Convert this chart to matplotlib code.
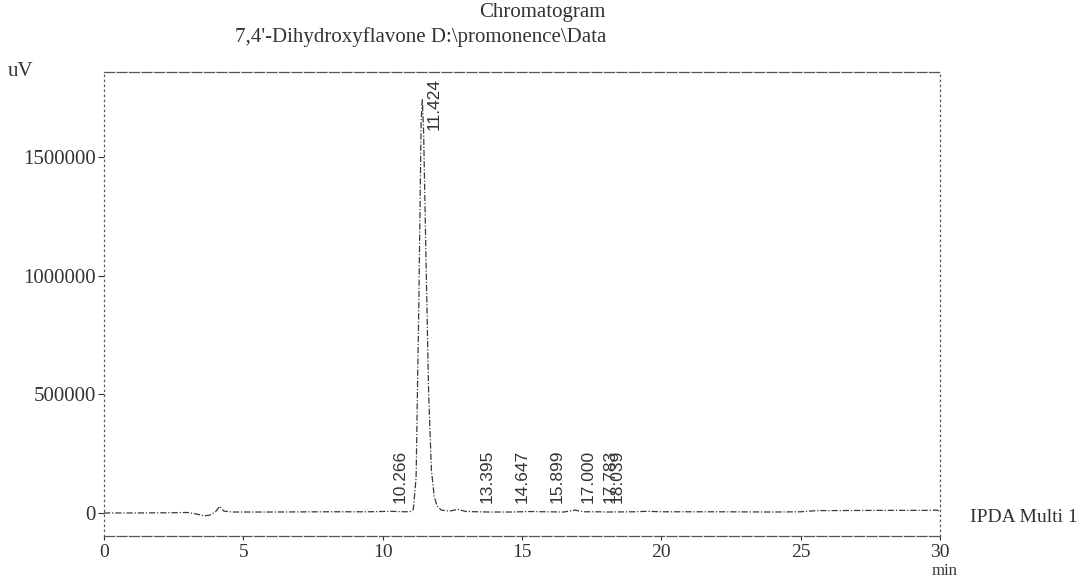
import numpy as np
import matplotlib
matplotlib.use('Agg')
import matplotlib.pyplot as plt

plt.rcParams.update({
    'font.family': ['Liberation Serif', 'DejaVu Serif'],
    'font.size': 14,
})

# trace (min, uV)
time_min = [0.0, 1.2, 2.5, 3.0, 3.3, 3.6, 3.8, 4.0, 4.15, 4.3, 4.6, 6.0, 8.0, 9.5,
            10.266, 10.8, 11.0, 11.1, 11.2, 11.3, 11.38, 11.424, 11.47, 11.55,
            11.65, 11.75, 11.85, 11.95, 12.1, 12.4, 12.7, 13.0, 13.395, 13.8,
            14.647, 15.3, 15.899, 16.5, 16.9, 17.2, 17.783, 18.039, 19.0, 19.5,
            20.0, 22.0, 24.0, 25.0, 25.6, 26.0, 28.0, 29.5, 29.9, 30.0]
signal_uv = [0, 0, 1000, 2000, -4000, -12000, -9000, 5000, 28000, 8000, 4000,
             4000, 5000, 5000, 7000, 5000, 6000, 15000, 150000, 900000, 1650000,
             1740000, 1600000, 1100000, 500000, 180000, 70000, 30000, 12000,
             8000, 15000, 6000, 5000, 4000, 4000, 6000, 5000, 4000, 12000, 5000,
             5000, 4000, 5000, 7000, 5000, 5000, 4000, 5000, 10000, 10000, 11000,
             11000, 12000, 6000]

peak_rt = [10.266, 11.424, 13.395, 14.647, 15.899, 17.000, 17.783, 18.039]
peak_lbl = ['10.266', '11.424', '13.395', '14.647', '15.899', '17.000', '17.783', '18.039']

fig = plt.figure(figsize=(10.84, 5.79), dpi=100)
ax = fig.add_axes([104 / 1084, 1 - 536 / 579, (940 - 104) / 1084, (536 - 72) / 579])

ax.plot(time_min, signal_uv, color='#3a3a3a', lw=0.9, ls=(0, (5, 1.5, 1, 1.5)))

ax.set_xlim(0, 30)
ax.set_ylim(-97000, 1857000)
ax.set_xticks(range(0, 31, 5))
ax.set_yticks([0, 500000, 1000000, 1500000])
ax.set_yticklabels(['0', '500000', '1000000', '1500000'])
ax.tick_params(axis='y', direction='out', length=4, pad=2, colors='#333', labelsize=15)
ax.tick_params(axis='x', direction='out', length=3, pad=3, colors='#333', labelsize=14)

for side in ['top', 'bottom']:
    ax.spines[side].set_linestyle((0, (8, 2)))
for side in ['left', 'right']:
    ax.spines[side].set_linestyle((0, (1, 3)))
for s in ax.spines.values():
    s.set_color('#555')
    s.set_linewidth(0.9)

# retention time labels
lbl_font = dict(rotation=90, ha='left', fontsize=12.5, color='#333',
                family=['Liberation Sans Narrow', 'Liberation Sans', 'DejaVu Sans'])
for rt, lbl in zip(peak_rt, peak_lbl):
    if lbl == '11.424':
        ax.text(rt + 0.15, 1830000, lbl, va='top', **lbl_font)
    else:
        ax.text(rt + 0.1, 40000, lbl, va='bottom', **lbl_font)

fig.text(606 / 1084, 1 - 12 / 579, 'Chromatogram', ha='right', va='center',
         fontsize=15, color='#333')
fig.text(606 / 1084, 1 - 37 / 579, "7,4'-Dihydroxyflavone D:\\promonence\\Data",
         ha='right', va='center', fontsize=15, color='#333')
fig.text(8 / 1084, 1 - 72 / 579, 'uV', ha='left', va='center', fontsize=15, color='#333')
fig.text(970 / 1084, 1 - 518 / 579, 'IPDA Multi 1', ha='left', va='center',
         fontsize=14, color='#333')
fig.text(945 / 1084, 1 - 571 / 579, 'min', ha='center', va='center',
         fontsize=12, color='#333')

plt.savefig('out.png', dpi=100)
plt.close()
